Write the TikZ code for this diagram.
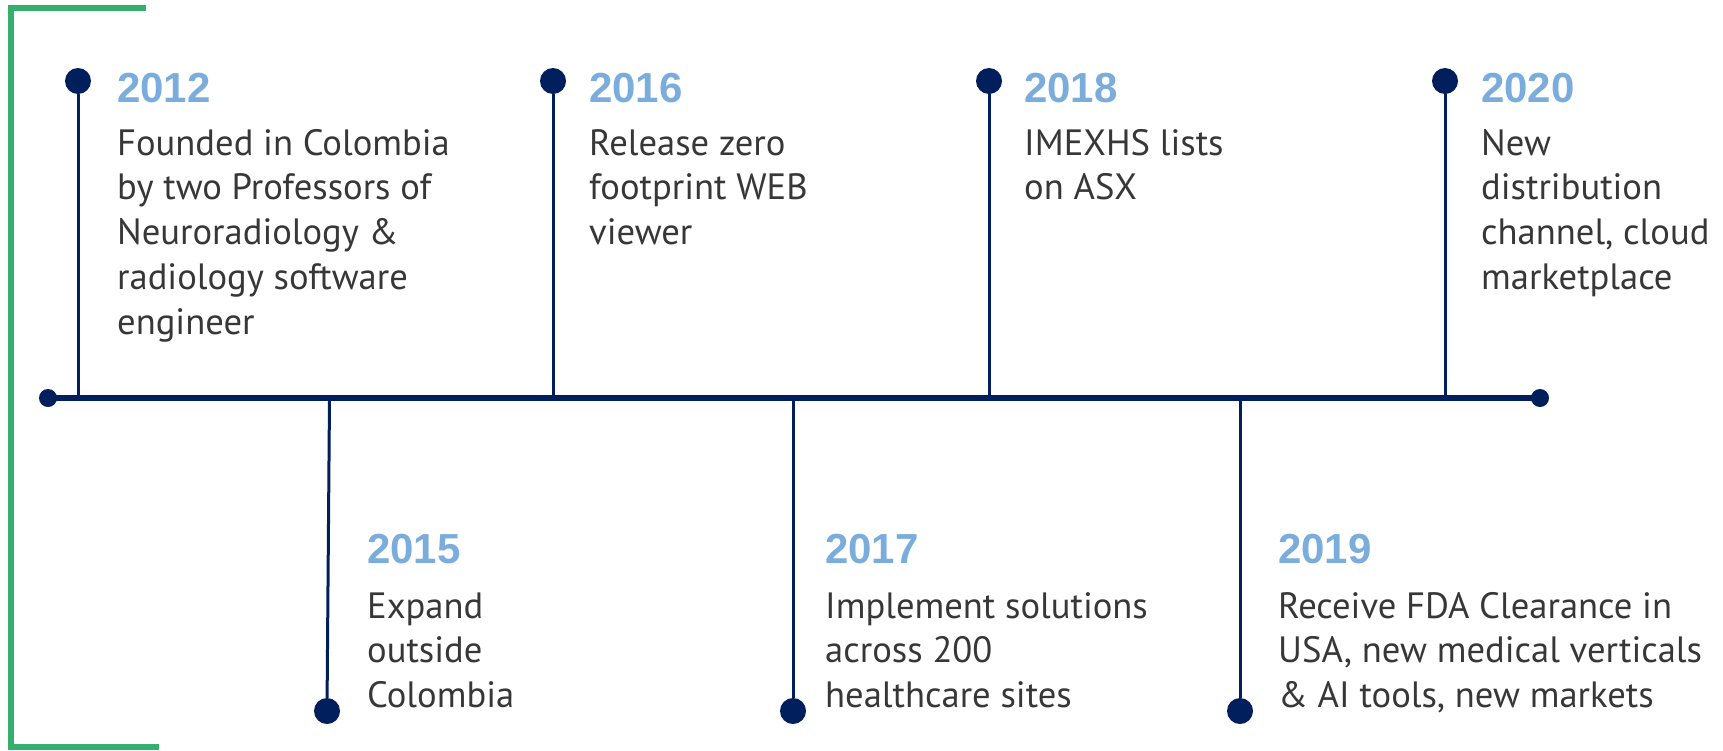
\documentclass[tikz,border=0pt]{standalone}
\usepackage{fontspec}
\setmainfont{PT Sans}
\newfontfamily\yearfont{Liberation Sans}
\definecolor{navy}{RGB}{1,31,92}
\definecolor{yearblue}{RGB}{122,172,220}
\definecolor{bodygray}{RGB}{55,55,55}
\definecolor{brgreen}{RGB}{52,176,106}
\tikzset{
  bracket/.style={draw=brgreen, line width=6pt, line join=miter},
  mainline/.style={draw=navy, line width=6pt},
  stemline/.style={draw=navy, line width=3pt},
  enddot/.style={circle, fill=navy, inner sep=0pt, minimum size=18pt},
  evdot/.style={circle, fill=navy, inner sep=0pt, minimum size=26pt},
  yearlbl/.style={anchor=base west, inner sep=0pt, text=yearblue, font=\yearfont\bfseries\fontsize{42}{50}\selectfont},
  bodylbl/.style={anchor=base west, inner sep=0pt, text=bodygray, font=\fontsize{36.6}{44.8}\selectfont},
}
\newcommand{\evtext}[1]{\parbox[t]{520pt}{\raggedright #1}}
\begin{document}
\begin{tikzpicture}[x=1pt,y=-1pt]
\useasboundingbox (0,0) rectangle (1723,750);
% green bracket
\coordinate (gA) at (146,8);
\coordinate (gB) at (11,8);
\coordinate (gC) at (11,747);
\coordinate (gD) at (159,747);
\draw[bracket] (gA) -- (gB) -- (gC) -- (gD);
% stem feet on the main line
\coordinate (s12) at (78,398);
\coordinate (s15) at (329.5,398);
\coordinate (s16) at (553,398);
\coordinate (s17) at (793,398);
\coordinate (s18) at (989,398);
\coordinate (s19) at (1240,398);
\coordinate (s20) at (1445,398);
% main line
\node[enddot] (L) at (48,398) {};
\node[enddot] (R) at (1540,398) {};
\draw[mainline] (L.center) -- (R.center);
% event dots
\node[evdot] (d12) at (78,81) {};
\node[evdot] (d16) at (553,81) {};
\node[evdot] (d18) at (989,81) {};
\node[evdot] (d20) at (1445,81) {};
\node[evdot] (d15) at (327,711) {};
\node[evdot] (d17) at (793,711) {};
\node[evdot] (d19) at (1240,711) {};
% stems
\draw[stemline] (d12) -- (s12);
\draw[stemline] (d16) -- (s16);
\draw[stemline] (d18) -- (s18);
\draw[stemline] (d20) -- (s20);
\draw[stemline] (s15) -- (d15);
\draw[stemline] (s17) -- (d17);
\draw[stemline] (s19) -- (d19);
% top labels
\node[yearlbl] (y12) at (117,102) {2012};
\node[bodylbl] (t12) at (117,155) {\evtext{Founded in Colombia\\by two Professors of\\Neuroradiology \&\\radiology software\\engineer}};
\node[yearlbl] (y16) at (589,102) {2016};
\node[bodylbl] (t16) at (589,155) {\evtext{Release zero\\footprint WEB\\viewer}};
\node[yearlbl] (y18) at (1024,102) {2018};
\node[bodylbl] (t18) at (1024,155) {\evtext{IMEXHS lists\\on ASX}};
\node[yearlbl] (y20) at (1481,102) {2020};
\node[bodylbl] (t20) at (1481,155) {\evtext{New\\distribution\\channel, cloud\\marketplace}};
% bottom labels
\node[yearlbl] (y15) at (367,563) {2015};
\node[bodylbl] (t15) at (367,618) {\evtext{Expand\\outside\\Colombia}};
\node[yearlbl] (y17) at (825,563) {2017};
\node[bodylbl] (t17) at (825,618) {\evtext{Implement solutions\\across 200\\healthcare sites}};
\node[yearlbl] (y19) at (1278,563) {2019};
\node[bodylbl] (t19) at (1278,618) {\evtext{Receive FDA Clearance in\\USA, new medical verticals\\\& AI tools, new markets}};
\end{tikzpicture}
\end{document}
